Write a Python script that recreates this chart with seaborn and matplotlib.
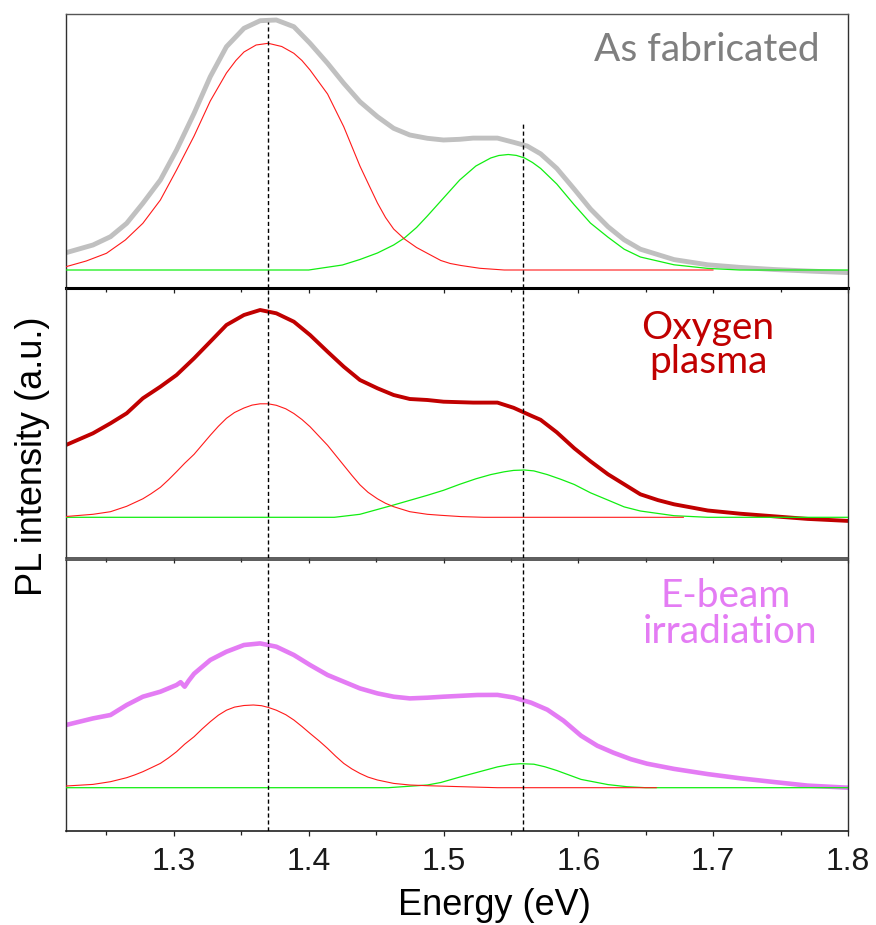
import matplotlib
matplotlib.use("Agg")
import matplotlib.pyplot as plt
import seaborn as sns
import pandas as pd
from matplotlib.ticker import MultipleLocator

sns.set_style("ticks")
plt.rcParams['font.family'] = ['Liberation Sans', 'DejaVu Sans']

# ---------------- data (intensity in arbitrary units, baseline = 0) ----------------
# Panel 1 : As fabricated
as_fab_E = [1.220, 1.240, 1.253, 1.265, 1.277, 1.290, 1.302, 1.315, 1.327, 1.339, 1.352, 1.364,
            1.376, 1.389, 1.401, 1.414, 1.426, 1.438, 1.451, 1.463, 1.475, 1.488, 1.500, 1.512,
            1.522, 1.540, 1.552, 1.562, 1.572, 1.584, 1.597, 1.609, 1.622, 1.634, 1.646, 1.671,
            1.696, 1.720, 1.745, 1.770, 1.800]
as_fab_I = [17.3, 25.0, 33.3, 46.7, 66.7, 90.0, 120.0, 156.7, 193.3, 223.3, 241.7, 249.3,
            250.0, 243.3, 226.7, 206.7, 186.7, 168.3, 153.3, 141.7, 135.0, 131.7, 130.0, 130.7,
            131.9, 131.9, 127.7, 124.0, 116.2, 101.6, 80.8, 61.0, 43.3, 30.2, 20.8, 10.4,
            5.2, 2.6, 0.5, -1.0, -2.6]
as_fab_red_E = [1.220, 1.235, 1.250, 1.264, 1.277, 1.290, 1.302, 1.315, 1.327, 1.339, 1.346,
                1.352, 1.361, 1.370, 1.380, 1.389, 1.395, 1.401, 1.414, 1.426, 1.438, 1.445,
                1.451, 1.457, 1.463, 1.471, 1.480, 1.488, 1.498, 1.505, 1.513, 1.527, 1.545,
                1.700]
as_fab_red_I = [3.3, 9.0, 16.7, 30.0, 46.7, 70.0, 100.0, 134.0, 169.0, 197.0, 209.5,
                218.0, 225.0, 226.7, 223.5, 216.7, 209.5, 200.0, 176.0, 143.3, 104.0, 84.0,
                67.0, 52.5, 41.0, 31.0, 22.5, 16.7, 9.5, 6.5, 4.5, 1.7, 0.0,
                0.0]
as_fab_green_E = [1.220, 1.400, 1.425, 1.438, 1.451, 1.463, 1.471, 1.480, 1.488, 1.500, 1.512,
                  1.524, 1.535, 1.541, 1.548, 1.554, 1.560, 1.566, 1.572, 1.584, 1.597, 1.609,
                  1.622, 1.634, 1.646, 1.671, 1.696, 1.720, 1.800]
as_fab_green_I = [0.0, 0.0, 5.0, 10.5, 17.0, 25.0, 32.0, 42.5, 54.0, 72.0, 90.0,
                  104.0, 112.0, 114.5, 115.5, 114.6, 112.1, 107.5, 101.6, 86.0, 65.1, 46.9,
                  32.8, 20.8, 13.0, 5.2, 1.6, 0.0, 0.0]

# Panel 2 : Oxygen plasma
oxy_E = [1.220, 1.240, 1.253, 1.265, 1.277, 1.290, 1.302, 1.315, 1.327, 1.339, 1.352, 1.364,
         1.376, 1.389, 1.401, 1.414, 1.426, 1.438, 1.451, 1.463, 1.475, 1.488, 1.500, 1.522,
         1.540, 1.552, 1.565, 1.572, 1.584, 1.597, 1.609, 1.622, 1.634, 1.646, 1.659, 1.671,
         1.696, 1.720, 1.745, 1.770, 1.800]
oxy_I = [72.3, 84.0, 94.0, 104.0, 119.0, 130.6, 142.3, 159.0, 175.6, 192.3, 202.3, 207.3,
         204.0, 195.6, 182.3, 165.6, 150.6, 137.3, 129.0, 122.3, 118.3, 117.3, 115.6, 114.7,
         114.7, 109.5, 101.6, 97.5, 85.0, 69.0, 56.0, 43.0, 33.0, 23.0, 17.2, 13.0,
         6.8, 3.6, 1.0, -1.6, -3.6]
oxy_red_E = [1.220, 1.240, 1.253, 1.265, 1.277, 1.283, 1.290, 1.296, 1.302, 1.308, 1.315,
             1.321, 1.327, 1.333, 1.339, 1.345, 1.352, 1.358, 1.364, 1.370, 1.376, 1.383,
             1.389, 1.395, 1.401, 1.407, 1.414, 1.420, 1.426, 1.432, 1.438, 1.444, 1.451,
             1.457, 1.463, 1.475, 1.488, 1.498, 1.513, 1.530, 1.678]
oxy_red_I = [0.8, 3.0, 5.6, 11.0, 18.5, 23.5, 30.0, 37.5, 45.6, 54.0, 63.0,
             72.5, 82.0, 91.0, 99.0, 104.8, 109.3, 112.2, 113.5, 113.5, 112.0, 108.5,
             103.8, 97.8, 90.6, 82.0, 72.0, 62.0, 52.0, 42.0, 32.5, 25.0, 18.5,
             14.0, 10.6, 5.6, 3.0, 2.0, 0.7, 0.0, 0.0]
oxy_green_E = [1.220, 1.419, 1.438, 1.463, 1.488, 1.500, 1.512, 1.524, 1.535, 1.545, 1.552,
               1.560, 1.567, 1.577, 1.587, 1.597, 1.609, 1.622, 1.634, 1.646, 1.671, 1.696,
               1.800]
oxy_green_I = [0.0, 0.0, 3.0, 12.3, 22.0, 27.0, 33.0, 38.5, 42.7, 45.5, 46.9,
               47.3, 46.4, 42.7, 38.0, 32.8, 24.5, 17.2, 10.4, 6.3, 1.6, 0.0,
               0.0]

# Panel 3 : E-beam irradiation
ebeam_E = [1.220, 1.240, 1.253, 1.265, 1.277, 1.290, 1.302, 1.305, 1.308, 1.311, 1.315, 1.327,
           1.339, 1.352, 1.364, 1.376, 1.389, 1.401, 1.414, 1.426, 1.438, 1.451, 1.463, 1.475,
           1.488, 1.500, 1.525, 1.540, 1.552, 1.565, 1.577, 1.589, 1.602, 1.614, 1.626, 1.639,
           1.651, 1.671, 1.696, 1.720, 1.745, 1.770, 1.800]
ebeam_I = [62.7, 69.3, 72.7, 82.7, 91.0, 96.0, 102.7, 105.5, 101.0, 107.0, 114.0, 127.7,
           136.0, 142.7, 144.3, 141.0, 132.7, 122.7, 112.7, 106.0, 99.3, 94.3, 91.0, 89.3,
           90.0, 91.0, 92.7, 92.8, 90.2, 85.0, 78.0, 67.0, 52.0, 42.0, 35.0, 28.5,
           24.0, 18.8, 13.6, 9.4, 5.7, 2.1, 0.0]
ebeam_red_E = [1.220, 1.240, 1.253, 1.265, 1.271, 1.277, 1.283, 1.290, 1.296, 1.302, 1.308,
               1.315, 1.321, 1.327, 1.333, 1.339, 1.345, 1.352, 1.359, 1.365, 1.370, 1.376,
               1.383, 1.389, 1.395, 1.401, 1.408, 1.414, 1.420, 1.426, 1.432, 1.438, 1.444,
               1.451, 1.463, 1.475, 1.488, 1.513, 1.540, 1.658]
ebeam_red_I = [1.7, 3.3, 6.0, 10.0, 12.8, 16.0, 19.8, 24.3, 29.8, 36.0, 43.5,
               51.0, 58.8, 66.0, 72.5, 77.5, 80.6, 82.2, 82.7, 82.0, 80.3, 77.5,
               73.0, 67.7, 61.2, 54.3, 46.5, 39.3, 31.5, 24.3, 18.8, 14.3, 10.6,
               7.7, 4.3, 2.7, 2.0, 1.0, 0.0, 0.0]
ebeam_green_E = [1.220, 1.459, 1.488, 1.498, 1.513, 1.524, 1.540, 1.550, 1.557, 1.567, 1.575,
                 1.584, 1.602, 1.622, 1.636, 1.650, 1.800]
ebeam_green_I = [0.0, 0.0, 2.7, 5.2, 11.0, 15.0, 20.8, 23.3, 24.0, 23.5, 21.0,
                 17.2, 8.3, 3.1, 1.0, 0.0, 0.0]

peak_lines = [1.37, 1.559]

panels = [
    dict(E=as_fab_E, I=as_fab_I, rE=as_fab_red_E, rI=as_fab_red_I, gE=as_fab_green_E,
         gI=as_fab_green_I, color="#c0c0c0", lw=3.5, ylim=(-18, 256), top=14, bottom=288,
         dash_top=[248, 147]),
    dict(E=oxy_E, I=oxy_I, rE=oxy_red_E, rI=oxy_red_I, gE=oxy_green_E,
         gI=oxy_green_I, color="#c00000", lw=2.8, ylim=(-40.7, 229.3), top=288, bottom=558,
         dash_top=None),
    dict(E=ebeam_E, I=ebeam_I, rE=ebeam_red_E, rI=ebeam_red_I, gE=ebeam_green_E,
         gI=ebeam_green_I, color="#e47cf4", lw=3.3, ylim=(-43.3, 227.7), top=560, bottom=831,
         dash_top=None),
]

W, H = 876, 925
fig = plt.figure(figsize=(W / 100, H / 100), dpi=100)

axes = []
for p in panels:
    ax = fig.add_axes([66 / W, 1 - p["bottom"] / H, 782 / W, (p["bottom"] - p["top"]) / H])
    ax.patch.set_alpha(0)
    df = pd.DataFrame({"E": p["E"], "I": p["I"]})
    sns.lineplot(data=df, x="E", y="I", ax=ax, color=p["color"], linewidth=p["lw"], zorder=2)
    dg = pd.DataFrame({"E": p["gE"], "I": p["gI"]})
    sns.lineplot(data=dg, x="E", y="I", ax=ax, color="#11ee11", linewidth=0.9, zorder=3)
    dr = pd.DataFrame({"E": p["rE"], "I": p["rI"]})
    sns.lineplot(data=dr, x="E", y="I", ax=ax, color="#ff1a1a", linewidth=0.8, zorder=4)
    ax.set_xlim(1.22, 1.80)
    ax.set_ylim(*p["ylim"])
    ax.set_yticks([])
    ax.set_xlabel("")
    ax.set_ylabel("")
    ax.xaxis.set_major_locator(MultipleLocator(0.1))
    ax.xaxis.set_minor_locator(MultipleLocator(0.05))
    ax.tick_params(axis="x", which="major", direction="out", length=3.8, width=0.9,
                   color="#202020", top=False, bottom=True, labelsize=23, pad=8,
                   labelcolor="#1a1a1a")
    ax.tick_params(axis="x", which="minor", direction="out", length=2.6, width=0.9,
                   color="#202020", top=False, bottom=True)
    for s in ["left", "right"]:
        ax.spines[s].set_color("#303030")
        ax.spines[s].set_linewidth(1.0)
    # dashed peak markers
    for k, xv in enumerate(peak_lines):
        if p["dash_top"] is not None:
            ax.vlines(xv, p["ylim"][0], p["dash_top"][k], colors="black", linewidth=1.0,
                      linestyles=(0, (3, 2)), zorder=6)
        else:
            ax.axvline(xv, color="black", linewidth=1.0, linestyle=(0, (3, 2)), zorder=6)
    axes.append(ax)

ax1, ax2, ax3 = axes
for ax in (ax1, ax2):
    ax.tick_params(axis="x", labelbottom=False)

ax1.spines["top"].set_color("#555555")
ax1.spines["top"].set_linewidth(1.0)
ax1.spines["bottom"].set_color("black")
ax1.spines["bottom"].set_linewidth(2.2)
ax2.spines["top"].set_visible(False)
ax2.spines["bottom"].set_color("#404040")
ax2.spines["bottom"].set_linewidth(1.2)
ax3.spines["top"].set_color("#404040")
ax3.spines["top"].set_linewidth(1.2)
ax3.spines["bottom"].set_color("#202020")
ax3.spines["bottom"].set_linewidth(1.2)

# panel annotations
lab_font = dict(family=["Lato", "DejaVu Sans"], fontsize=28)
fig.text(820 / W, 1 - 61 / H, "As fabricated", color="#7f7f7f", ha="right", va="baseline", **lab_font)
fig.text(708 / W, 1 - 339 / H, "Oxygen", color="#c00000", ha="center", va="baseline", **lab_font)
fig.text(708 / W, 1 - 373 / H, "plasma", color="#c00000", ha="center", va="baseline", **lab_font)
fig.text(726 / W, 1 - 607 / H, "E-beam", color="#e47cf4", ha="center", va="baseline", **lab_font)
fig.text(730 / W, 1 - 643 / H, "irradiation", color="#e47cf4", ha="center", va="baseline", **lab_font)

fig.text(33 / W, 1 - 456 / H, "PL intensity (a.u.)", rotation=90, ha="center", va="center",
         fontsize=26, color="black")
fig.text(494 / W, 1 - 915 / H, "Energy (eV)", ha="center", va="baseline", fontsize=26,
         color="black")

fig.savefig("out.png", dpi=100)
